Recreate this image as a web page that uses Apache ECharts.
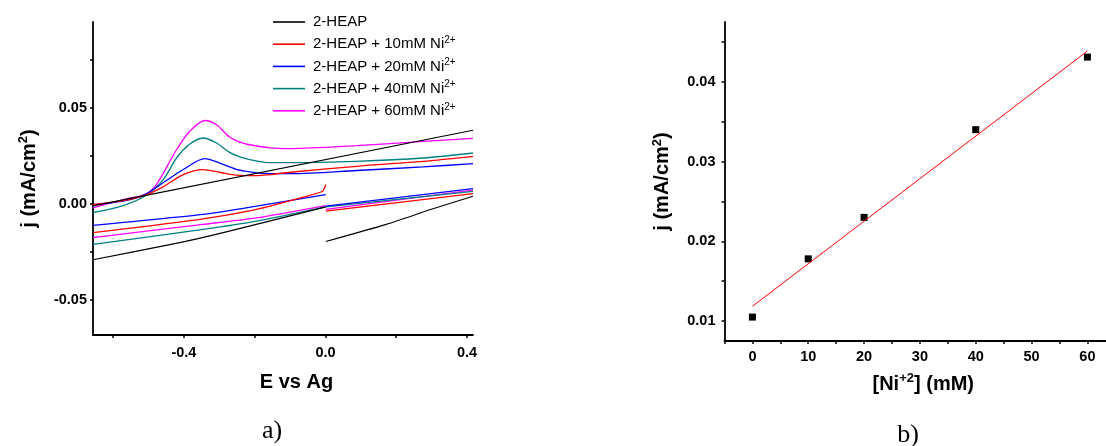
<!DOCTYPE html>
<html>
<head>
<meta charset="utf-8">
<script src="https://cdn.jsdelivr.net/npm/echarts@6/dist/echarts.min.js"></script>
<style>
  html, body { margin: 0; padding: 0; background: #fff; }
  #chart { width: 1106px; height: 446px; }
</style>
</head>
<body>
<div id="chart"></div>
<script>
// ---------- Panel a) : cyclic voltammograms ----------
const seriesNames = ['2-HEAP', '2-HEAP + 10mM Ni', '2-HEAP + 20mM Ni', '2-HEAP + 40mM Ni', '2-HEAP + 60mM Ni'];
const seriesSup = ['', '2+', '2+', '2+', '2+'];
const seriesColors = ['#000000', '#ff0000', '#0000ff', '#008080', '#ff00ff'];

// forward (upper) sweeps [E, j]
const fwd0 = [[-0.657, -0.0010], [0.417, 0.0383]];
const fwd10 = [[-0.657, -0.0003], [-0.572, 0.0018], [-0.511, 0.0045], [-0.459, 0.0089], [-0.402, 0.0153], [-0.346, 0.0179], [-0.299, 0.0165], [-0.252, 0.0150], [-0.195, 0.0147], [-0.157, 0.0153], [-0.098, 0.0165], [0.088, 0.0196], [0.276, 0.0222], [0.417, 0.0248]];
const fwd20 = [[-0.657, -0.0003], [-0.572, 0.0015], [-0.511, 0.0049], [-0.459, 0.0110], [-0.402, 0.0179], [-0.341, 0.0236], [-0.299, 0.0213], [-0.252, 0.0180], [-0.195, 0.0162], [-0.157, 0.0158], [-0.098, 0.0158], [0.088, 0.0174], [0.276, 0.0193], [0.417, 0.0210]];
const fwd40 = [[-0.657, -0.0045], [-0.572, -0.0008], [-0.511, 0.0040], [-0.459, 0.0125], [-0.421, 0.0239], [-0.384, 0.0310], [-0.346, 0.0343], [-0.308, 0.0317], [-0.271, 0.0268], [-0.242, 0.0245], [-0.214, 0.0231], [-0.157, 0.0215], [-0.098, 0.0215], [0.088, 0.0222], [0.276, 0.0239], [0.417, 0.0265]];
const fwd60 = [[-0.657, -0.0020], [-0.572, 0.0023], [-0.511, 0.0049], [-0.478, 0.0101], [-0.421, 0.0282], [-0.384, 0.0377], [-0.341, 0.0434], [-0.308, 0.0412], [-0.271, 0.0348], [-0.242, 0.0322], [-0.214, 0.0308], [-0.157, 0.0292], [-0.098, 0.0288], [0.088, 0.0303], [0.276, 0.0325], [0.417, 0.0341]];

// reverse sweeps, part below 0 V [E, j]
const revA0 = [[-0.657, -0.0290], [-0.412, -0.0201], [-0.289, -0.0149], [0.001, -0.0015]];
const revA10 = [[-0.657, -0.0149], [-0.346, -0.0077], [-0.195, -0.0028], [-0.054, 0.0040], [-0.008, 0.0066], [0.001, 0.0101]];
const revA20 = [[-0.657, -0.0111], [-0.346, -0.0054], [-0.195, -0.0011], [0.001, 0.0049]];
const revA40 = [[-0.657, -0.0210], [-0.346, -0.0132], [-0.195, -0.0089], [0.001, -0.0015]];
const revA60 = [[-0.657, -0.0175], [-0.346, -0.0106], [-0.195, -0.0072], [0.001, -0.0008]];

// reverse sweeps, part above 0 V [E, j]
const revB0 = [[0.001, -0.0195], [0.172, -0.0106], [0.304, -0.0025], [0.417, 0.0040]];
const revB10 = [[0.001, -0.0037], [0.417, 0.0054]];
const revB20 = [[0.001, -0.0011], [0.417, 0.0080]];
const revB40 = [[0.001, -0.0015], [0.417, 0.0066]];
const revB60 = [[0.001, -0.0028], [0.417, 0.0072]];

const aXTicks = [-0.6, -0.4, -0.2, 0.0, 0.2, 0.4];
const aXLabels = [-0.4, 0.0, 0.4];
const aYTicks = [-0.05, -0.025, 0.0, 0.025, 0.05, 0.075];
const aYLabels = [-0.05, 0.0, 0.05];

// ---------- Panel b) : peak current vs concentration ----------
const conc = [0, 10, 20, 40, 60];
const jPeak = [0.0105, 0.0178, 0.0230, 0.0340, 0.0431];
const fitConc = [0, 60];
const fitJ = [0.01185, 0.04386];

const bXTicks = [-5, 0, 5, 10, 15, 20, 25, 30, 35, 40, 45, 50, 55, 60];
const bXLabels = [0, 10, 20, 30, 40, 50, 60];
const bYTicks = [0.01, 0.015, 0.02, 0.025, 0.03, 0.035, 0.04, 0.045];
const bYLabels = [0.01, 0.02, 0.03, 0.04];

// ---------- build option ----------
const FONT = '"Liberation Sans", Arial, sans-serif';
const fwdSets = [fwd0, fwd10, fwd20, fwd40, fwd60];
const revASets = [revA0, revA10, revA20, revA40, revA60];
const revBSets = [revB0, revB10, revB20, revB40, revB60];

function axisCommon(ticks, labels, fmt, margin) {
  return {
    axisLine: { show: true, onZero: false, lineStyle: { color: '#000', width: 1.8 } },
    axisTick: { show: true, inside: false, length: 3, customValues: ticks, lineStyle: { color: '#000', width: 1.5 } },
    axisLabel: { show: true, customValues: labels, formatter: fmt, margin: margin,
      color: '#000', fontFamily: FONT, fontWeight: 'bold', fontSize: 14.5 },
    splitLine: { show: false }
  };
}

const series = [];
for (let i = seriesNames.length - 1; i >= 0; i--) {
  [fwdSets[i], revASets[i], revBSets[i]].forEach((d, k) => {
    series.push({
      name: seriesNames[i], type: 'line', xAxisIndex: 0, yAxisIndex: 0,
      data: d, showSymbol: false, symbol: 'none', smooth: k === 0 ? 0.3 : 0.2,
      lineStyle: { color: seriesColors[i], width: i === 0 ? 1.1 : 1.3 }, itemStyle: { color: seriesColors[i] },
      silent: true, animation: false
    });
  });
}
series.push({
  name: 'fit', type: 'line', xAxisIndex: 1, yAxisIndex: 1,
  data: fitConc.map((c, i) => [c, fitJ[i]]), showSymbol: false, symbol: 'none',
  lineStyle: { color: '#ff0000', width: 1 }, animation: false, silent: true
});
series.push({
  name: 'peak', type: 'scatter', xAxisIndex: 1, yAxisIndex: 1,
  data: conc.map((c, i) => [c, jPeak[i]]), symbol: 'rect', symbolSize: 7,
  itemStyle: { color: '#000', opacity: 1 }, animation: false, silent: true
});

const supRich = {
  n: { fontFamily: FONT, fontSize: 15, lineHeight: 18, color: '#000' },
  s: { fontFamily: FONT, fontSize: 10, lineHeight: 11, color: '#000', verticalAlign: 'top' }
};
const titleRich = {
  n: { fontFamily: FONT, fontSize: 20, fontWeight: 'bold', lineHeight: 24, color: '#000' },
  s: { fontFamily: FONT, fontSize: 13, fontWeight: 'bold', lineHeight: 14, color: '#000', verticalAlign: 'top' }
};

const option = {
  backgroundColor: '#ffffff',
  animation: false,
  grid: [
    { left: 93, top: 22, width: 380, height: 313 },
    { left: 724.5, top: 22, width: 381.5, height: 319 }
  ],
  legend: {
    data: seriesNames,
    orient: 'vertical', left: 273, top: 14.5, padding: 0,
    icon: 'rect', itemWidth: 32, itemHeight: 1.6, itemGap: 5.7,
    formatter: (name) => {
      const i = seriesNames.indexOf(name);
      return '{n|' + name + '}' + (seriesSup[i] ? '{s|' + seriesSup[i] + '}' : '');
    },
    textStyle: { rich: supRich, padding: [0, 0, 0, 3] },
    selectedMode: false
  },
  xAxis: [
    Object.assign({
      type: 'value', gridIndex: 0, min: -0.657, max: 0.417,
      name: 'E vs Ag', nameLocation: 'middle', nameGap: 37,
      nameTextStyle: { fontFamily: FONT, fontWeight: 'bold', fontSize: 20, color: '#000', padding: [0, 0, 0, 27] }
    }, axisCommon(aXTicks, aXLabels, v => Number(v).toFixed(1), 10)),
    Object.assign({
      type: 'value', gridIndex: 1, min: -5, max: 63.33,
      name: '{n|[Ni}{s|+2}{n|] (mM)}', nameLocation: 'middle', nameGap: 31,
      nameTextStyle: { rich: titleRich, padding: [0, 0, 0, 16] }
    }, axisCommon(bXTicks, bXLabels, v => String(Math.round(v)), 8))
  ],
  yAxis: [
    Object.assign({
      type: 'value', gridIndex: 0, min: -0.0681, max: 0.0946,
      name: '{n|j (mA/cm}{s|2}{n|)}', nameLocation: 'middle', nameGap: 52,
      nameTextStyle: { rich: titleRich }
    }, axisCommon(aYTicks, aYLabels, v => Number(v).toFixed(2), 6)),
    Object.assign({
      type: 'value', gridIndex: 1, min: 0.0075, max: 0.0475,
      name: '{n|j (mA/cm}{s|2}{n|)}', nameLocation: 'middle', nameGap: 50,
      nameTextStyle: { rich: titleRich }
    }, axisCommon(bYTicks, bYLabels, v => Number(v).toFixed(2), 9))
  ],
  graphic: [
    { type: 'text', x: 272, y: 431, style: { text: 'a)', font: '26px "Liberation Serif", "Times New Roman", serif', fill: '#000', textAlign: 'center', textVerticalAlign: 'middle' } },
    { type: 'text', x: 908, y: 435, style: { text: 'b)', font: '26px "Liberation Serif", "Times New Roman", serif', fill: '#000', textAlign: 'center', textVerticalAlign: 'middle' } }
  ],
  series: series
};

const chart = echarts.init(document.getElementById('chart'), null, { renderer: 'canvas' });
chart.setOption(option);
</script>
</body>
</html>
